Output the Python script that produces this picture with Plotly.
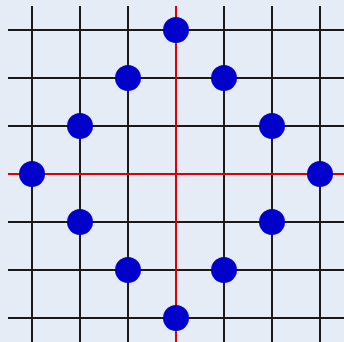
import plotly.graph_objects as go

x_vals = [0, -1, 1, -2, 2, -3, 3, -2, 2, -1, 1, 0]
y_vals = [3, 2, 2, 1, 1, 0, 0, -1, -1, -2, -2, -3]

fig = go.Figure()
fig.add_trace(go.Scatter(
    x=x_vals, y=y_vals, mode="markers",
    marker=dict(size=26, color="#0000CC"),
    showlegend=False,
))
axis_common = dict(
    range=[-3.5, 3.5], dtick=1, tick0=0,
    showticklabels=False, ticks="",
    showgrid=True, gridcolor="#1a1a1a", gridwidth=1.5,
    zeroline=True, zerolinecolor="#DD0000", zerolinewidth=2,
    showline=False,
)
fig.update_xaxes(**axis_common)
fig.update_yaxes(**axis_common)
fig.update_layout(
    width=344, height=342,
    margin=dict(l=8, r=0, t=6, b=0),
    plot_bgcolor="#E5ECF6", paper_bgcolor="#E5ECF6",
)
fig.write_html(
    "out.html",
    config={"displayModeBar": False},
    post_script="document.body.style.margin='0';document.body.style.background='#E5ECF6';document.body.style.overflow='hidden';",
)
